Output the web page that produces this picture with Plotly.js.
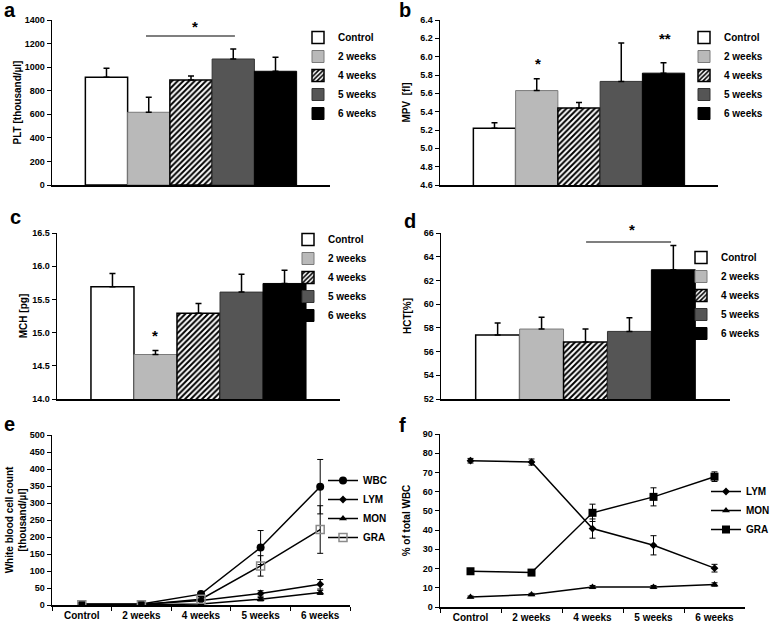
<!DOCTYPE html>
<html>
<head>
<meta charset="utf-8">
<script src="https://cdn.plot.ly/plotly-3.0.1.min.js"></script>
<style>
html, body { margin: 0; padding: 0; background: #fff; }
#chart { width: 778px; height: 632px; }
</style>
</head>
<body>
<div id="chart"></div>
<script>
// ==========================================================
// DATA
// ==========================================================

const groups = ["Control", "2 weeks", "4 weeks", "5 weeks", "6 weeks"];

// a - PLT
const pltMean = [915, 617, 890, 1069, 965];
const pltErr  = [75, 127, 34, 85, 120];

// b - MPV
const mpvMean = [5.22, 5.63, 5.44, 5.73, 5.82];
const mpvErr  = [0.06, 0.13, 0.06, 0.42, 0.115];

// c - MCH
const mchMean = [15.69, 14.67, 15.29, 15.61, 15.74];
const mchErr  = [0.20, 0.06, 0.15, 0.27, 0.20];

// d - HCT
const hctMean = [57.4, 57.9, 56.8, 57.7, 62.9];
const hctErr  = [1.0, 1.0, 1.1, 1.15, 2.05];

// e - white blood cell counts
const wbcCount = [3, 3, 32, 169, 348];
const wbcErr   = [1, 1, 4, 50, 80];
const lymCount = [2, 2, 13, 34, 61];
const lymErr   = [0.5, 0.5, 2, 8, 14];
const monCount = [0.5, 0.5, 3, 17, 37];
const monErr   = [0.2, 0.2, 1, 5, 6];
const graCount = [1, 1, 17, 115, 222];
const graErr   = [0.5, 0.5, 3, 30, 70];

// f - % of total WBC
const lymPct    = [76.1, 75.4, 40.8, 32.1, 20.2];
const lymPctErr = [1.2, 1.6, 5, 5, 2];
const monPct    = [5.2, 6.5, 10.4, 10.4, 11.7];
const monPctErr = [0.5, 0.6, 0.8, 0.8, 0.9];
const graPct    = [18.6, 17.9, 49, 57.3, 67.8];
const graPctErr = [1.2, 1.4, 4.5, 4.7, 2.5];


// ==========================================================
// HELPERS
// ==========================================================

const W = 778, H = 632;
const FONT = "Liberation Sans, Arial, sans-serif";

function px(x){ return x / W; }
function py(y){ return 1 - y / H; }

function sfx(n){ return n === 1 ? "" : String(n); }

const barStyles = [
    { color: "#ffffff", line: { color: "#000", width: 1.5 } },
    { color: "#b9b9b9", line: { color: "#7a7a7a", width: 1 } },
    { color: "#ffffff", line: { color: "#000", width: 1.5 },
      pattern: { shape: "/", fgcolor: "#000", bgcolor: "#fff", size: 4, solidity: 0.5 } },
    { color: "#555555", line: { color: "#333", width: 1 } },
    { color: "#000000", line: { color: "#000", width: 1 } }
];

function barTraces(n, means, errs){
    return groups.map((g, i) => ({
        type: "bar",
        x: ["all"],
        y: [means[i]],
        name: g,
        xaxis: "x" + sfx(n),
        yaxis: "y" + sfx(n),
        legend: "legend" + sfx(n),
        marker: barStyles[i],
        error_y: {
            type: "data", symmetric: false,
            array: [errs[i]], arrayminus: [0],
            color: "#000", thickness: 1.5, width: 3
        }
    }));
}

function lineTrace(n, name, ys, errs, marker){
    return {
        type: "scatter",
        mode: "lines+markers",
        x: groups,
        y: ys,
        name: name,
        xaxis: "x" + sfx(n),
        yaxis: "y" + sfx(n),
        legend: "legend" + sfx(n),
        line: { color: "#000", width: 1.5 },
        marker: marker,
        error_y: {
            type: "data", array: errs,
            color: "#000", thickness: 1, width: 3
        }
    };
}

function axisPair(layout, n, xdom, ydom, yrange, dtick, fmt, title, isCat){
    const s = sfx(n);
    layout["xaxis" + s] = {
        domain: xdom,
        anchor: "y" + s,
        type: "category",
        range: [-0.5, isCat ? 4.5 : 0.5],
        showline: true, linecolor: "#000", linewidth: 1.5,
        showgrid: false, zeroline: false,
        showticklabels: !!isCat,
        ticks: isCat ? "outside" : "",
        tickson: "boundaries",
        ticklen: 4, tickcolor: "#000",
        tickfont: { family: FONT, size: 10, weight: "bold", color: "#000" },
        fixedrange: true
    };
    layout["yaxis" + s] = {
        domain: ydom,
        anchor: "x" + s,
        range: yrange,
        dtick: dtick,
        tickformat: fmt,
        showline: true, linecolor: "#000", linewidth: 1.5,
        showgrid: false, zeroline: false,
        ticks: "outside", ticklen: 4, tickcolor: "#000",
        tickfont: { family: FONT, size: 9, weight: "bold", color: "#000" },
        title: { text: title, font: { family: FONT, size: 10, weight: "bold", color: "#000" } },
        fixedrange: true
    };
}

function legendAt(x, top){
    return {
        x: px(x), y: py(top),
        xanchor: "left", yanchor: "top",
        bgcolor: "rgba(0,0,0,0)",
        font: { family: FONT, size: 10, weight: "bold", color: "#000" },
        itemwidth: 30,
        tracegroupgap: 0
    };
}


// ==========================================================
// TRACES
// ==========================================================

let traces = [];

traces = traces.concat(barTraces(1, pltMean, pltErr));
traces = traces.concat(barTraces(2, mpvMean, mpvErr));
traces = traces.concat(barTraces(3, mchMean, mchErr));
traces = traces.concat(barTraces(4, hctMean, hctErr));

traces.push(lineTrace(5, "WBC", wbcCount, wbcErr, { symbol: "circle", size: 8, color: "#000" }));
traces.push(lineTrace(5, "LYM", lymCount, lymErr, { symbol: "diamond", size: 6, color: "#000" }));
traces.push(lineTrace(5, "MON", monCount, monErr, { symbol: "triangle-up", size: 7, color: "#000" }));
traces.push(lineTrace(5, "GRA", graCount, graErr,
    { symbol: "square-open", size: 8, color: "#8a8a8a", line: { width: 1.5, color: "#8a8a8a" } }));

traces.push(lineTrace(6, "LYM", lymPct, lymPctErr, { symbol: "diamond", size: 6, color: "#000" }));
traces.push(lineTrace(6, "MON", monPct, monPctErr, { symbol: "triangle-up", size: 7, color: "#000" }));
traces.push(lineTrace(6, "GRA", graPct, graPctErr, { symbol: "square", size: 8, color: "#000" }));


// ==========================================================
// LAYOUT
// ==========================================================

const layout = {
    width: W, height: H,
    margin: { l: 0, r: 0, t: 0, b: 0 },
    paper_bgcolor: "#fff",
    plot_bgcolor: "rgba(0,0,0,0)",
    font: { family: FONT, color: "#000" },
    barmode: "group",
    bargap: 0.24,
    bargroupgap: 0,
    legend:  legendAt(298, 23),
    legend2: legendAt(684, 23),
    legend3: legendAt(288, 225),
    legend4: legendAt(681, 243),
    legend5: legendAt(323, 466),
    legend6: legendAt(706, 477),
    shapes: [],
    annotations: []
};

axisPair(layout, 1, [px(52), px(330)],  [py(185), py(20)],  [0, 1400],  200, "",    "PLT [thousand/µl]");
axisPair(layout, 2, [px(440), px(718)], [py(185), py(20)],  [4.6, 6.4], 0.2, ".1f", "MPV  [fl]");
axisPair(layout, 3, [px(57), px(340)],  [py(399), py(233)], [14, 16.5], 0.5, ".1f", "MCH [pg]");
axisPair(layout, 4, [px(441), px(730)], [py(399), py(233)], [52, 66],   2,   "",    "HCT[%]");
axisPair(layout, 5, [px(52), px(350)],  [py(605), py(435)], [0, 500],   50,  "",
    "White blood cell count<br>[thousand/µl]", true);
axisPair(layout, 6, [px(440), px(745)], [py(607), py(434)], [0, 90],    10,  "",    "% of total WBC", true);


// panel letters
[["a", 10, 10], ["b", 405, 10], ["c", 15, 217], ["d", 410, 221], ["e", 9, 424], ["f", 402, 425]]
.forEach(l => {
    layout.annotations.push({
        text: l[0], xref: "paper", yref: "paper",
        x: px(l[1]), y: py(l[2]),
        xanchor: "center", yanchor: "middle",
        showarrow: false,
        font: { family: FONT, size: 20, weight: "bold", color: "#000" }
    });
});


// significance marks (positions relative to each panel's plot area)
function star(n, xd, yd, txt){
    layout.annotations.push({
        text: txt, xref: "x" + sfx(n) + " domain", yref: "y" + sfx(n) + " domain",
        x: xd, y: yd, xanchor: "center", yanchor: "middle",
        showarrow: false,
        font: { family: FONT, size: 15, weight: "bold", color: "#000" }
    });
}

function bracket(n, x0, x1, y){
    layout.shapes.push({
        type: "line", xref: "x" + sfx(n) + " domain", yref: "y" + sfx(n),
        x0: x0, x1: x1, y0: y, y1: y,
        line: { color: "#555", width: 1.5 }
    });
}

bracket(1, 0.338, 0.658, 1264);
star(1, 0.516, 0.96, "*");

star(2, 0.353, 0.739, "*");
star(2, 0.81, 0.885, "**");

star(3, 0.346, 0.3825, "*");

bracket(4, 0.502, 0.796, 65.24);
star(4, 0.661, 1.021, "*");


Plotly.newPlot("chart", traces, layout, { displayModeBar: false, staticPlot: true });
</script>
</body>
</html>
